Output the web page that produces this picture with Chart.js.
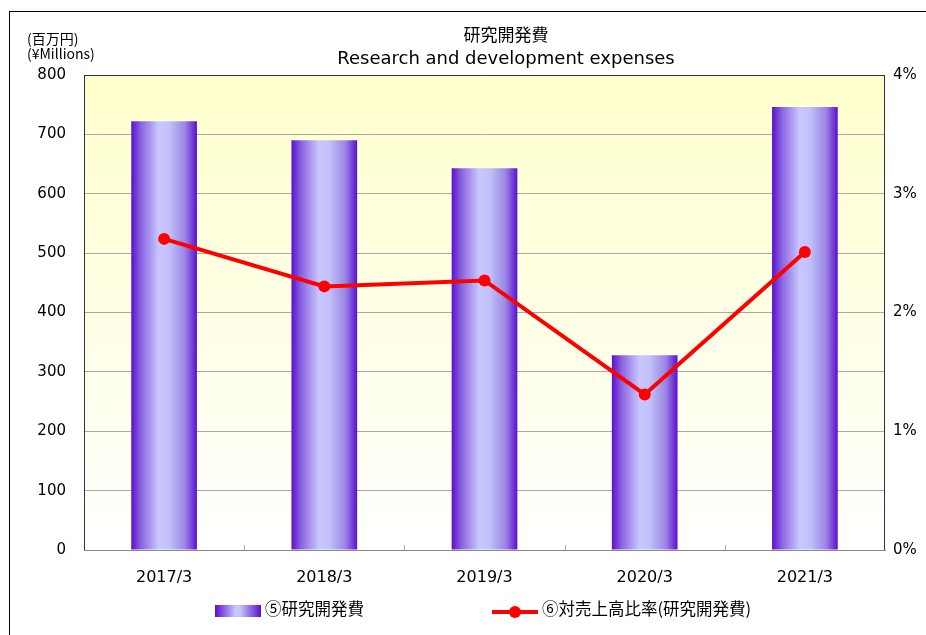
<!DOCTYPE html>
<html>
<head>
<meta charset="utf-8">
<script src="https://cdn.jsdelivr.net/npm/chart.js@4"></script>
<style>
  html, body { margin: 0; padding: 0; background: #fff; }
  #wrap { position: relative; width: 926px; height: 635px; overflow: hidden; font-family: "DejaVu Sans", sans-serif; color: #000; }
  #frame { position: absolute; left: 9px; top: 11px; width: 1000px; height: 700px; border: 1px solid #000; box-sizing: border-box; }
  canvas { position: absolute; left: 0; top: 0; }
  .txt { position: absolute; white-space: nowrap; }
  #title1 { left: 0; width: 1012px; top: 21px; text-align: center; font: 17px "Noto Sans CJK JP"; }
  #title2 { left: 0; width: 1012px; top: 47px; text-align: center; font: 18px "DejaVu Sans"; }
  #unit1 { left: 27px; top: 28px; font: 14px "Noto Sans CJK JP"; }
  #unit2 { left: 27px; top: 43px; font: 14px "Noto Sans CJK JP"; }
  .leg { position: absolute; top: 596px; font: 16.5px "Noto Sans CJK JP"; }
  #sw1 { position: absolute; left: 215px; top: 605px; width: 46px; height: 12px;
         background: linear-gradient(to right, #5a10cc, #c8c8ff 45%, #c4c4fa 55%, #5a10cc); }
  #sw2 { position: absolute; left: 492px; top: 610px; width: 46px; height: 4px; background: #ff0000; }
  #dot2 { position: absolute; left: 509px; top: 606px; width: 12px; height: 12px; border-radius: 50%; background: #ff0000; }
</style>
</head>
<body>
<div id="wrap">
  <canvas id="chart" width="926" height="635"></canvas>
  <div id="frame"></div>
  <div class="txt" id="title1">研究開発費</div>
  <div class="txt" id="title2">Research and development expenses</div>
  <div class="txt" id="unit1">(百万円)</div>
  <div class="txt" id="unit2">(¥Millions)</div>
  <div id="sw1"></div>
  <div class="leg" style="left:265px">⑤研究開発費</div>
  <div id="sw2"></div><div id="dot2"></div>
  <div class="leg" style="left:542px">⑥対売上高比率(研究開発費)</div>
</div>
<script>
// データ
var years = ["2017/3", "2018/3", "2019/3", "2020/3", "2021/3"];
var rdExpenses = [722, 690, 643, 328, 746];
var rdRatio = [2.62, 2.22, 2.27, 1.31, 2.51];
var leftTicks = [0, 100, 200, 300, 400, 500, 600, 700, 800];
var rightTicks = [0, 1, 2, 3, 4];

var barPct = 0.41;

// 棒のグラデーション
function barGradient(context) {
  var chart = context.chart;
  var x = chart.scales.x;
  if (!x || context.dataIndex === undefined) return "#8a70e0";
  var cx = x.getPixelForValue(context.dataIndex);
  var w = x.width / years.length * barPct;
  if (!isFinite(cx) || !isFinite(w) || w <= 0) return "#8a70e0";
  var g = chart.ctx.createLinearGradient(cx - w / 2, 0, cx + w / 2, 0);
  g.addColorStop(0, "#5a10cc");
  g.addColorStop(0.15, "#8a64e0");
  g.addColorStop(0.42, "#c8c8ff");
  g.addColorStop(0.58, "#c2c0f8");
  g.addColorStop(0.82, "#9a86e6");
  g.addColorStop(1, "#5a10cc");
  return g;
}

// 背景と枠
var bgPlugin = {
  id: "bg",
  beforeDraw: function (chart) {
    var a = chart.chartArea, ctx = chart.ctx;
    var g = ctx.createLinearGradient(0, a.top, 0, a.bottom);
    g.addColorStop(0, "#ffffcc");
    g.addColorStop(1, "#ffffff");
    ctx.save();
    ctx.fillStyle = g;
    ctx.fillRect(a.left, a.top, a.right - a.left, a.bottom - a.top);
    ctx.restore();
  },
  afterDatasetsDraw: function (chart) {
    var a = chart.chartArea, ctx = chart.ctx, x = chart.scales.x;
    ctx.save();
    ctx.strokeStyle = "#333";
    ctx.lineWidth = 1;
    ctx.beginPath();
    ctx.moveTo(a.left + 0.5, a.top); ctx.lineTo(a.left + 0.5, a.bottom);
    ctx.moveTo(a.left, a.top + 0.5); ctx.lineTo(a.right, a.top + 0.5);
    ctx.moveTo(a.right - 0.5, a.top); ctx.lineTo(a.right - 0.5, a.bottom);
    ctx.stroke();
    // 項目の区切り目盛
    ctx.strokeStyle = "#aaa";
    ctx.beginPath();
    for (var i = 1; i < years.length; i++) {
      var px = Math.round((x.getPixelForValue(i - 1) + x.getPixelForValue(i)) / 2) + 0.5;
      ctx.moveTo(px, a.bottom - 5); ctx.lineTo(px, a.bottom);
    }
    ctx.stroke();
    ctx.restore();
  }
};

new Chart(document.getElementById("chart"), {
  type: "bar",
  data: {
    labels: years,
    datasets: [
      {
        type: "line",
        label: "⑥対売上高比率(研究開発費)",
        data: rdRatio,
        yAxisID: "y2",
        borderColor: "#ff0000",
        backgroundColor: "#ff0000",
        borderWidth: 4,
        pointRadius: 6,
        pointBackgroundColor: "#ff0000",
        pointBorderWidth: 0,
        tension: 0,
        order: 0
      },
      {
        label: "⑤研究開発費",
        data: rdExpenses,
        yAxisID: "y",
        backgroundColor: barGradient,
        barPercentage: barPct,
        categoryPercentage: 1,
        order: 1
      }
    ]
  },
  options: {
    responsive: false,
    animation: false,
    layout: { padding: { top: 75, left: 0, right: 0, bottom: 0 } },
    plugins: { legend: { display: false }, title: { display: false }, tooltip: { enabled: false } },
    scales: {
      x: {
        grid: { display: false },
        border: { color: "#888" },
        ticks: { color: "#000", font: { family: "DejaVu Sans", size: 16 }, padding: 10 },
        afterFit: function (s) { s.height = 85; }
      },
      y: {
        min: 0, max: 800,
        afterBuildTicks: function (s) { s.ticks = leftTicks.map(function (v) { return { value: v }; }); },
        grid: { color: "#a8a8a8", drawTicks: false },
        border: { display: false },
        ticks: { color: "#000", font: { family: "DejaVu Sans", size: 15 }, padding: 18 },
        afterFit: function (s) { s.width = 84; }
      },
      y2: {
        position: "right",
        min: 0, max: 4,
        afterBuildTicks: function (s) { s.ticks = rightTicks.map(function (v) { return { value: v }; }); },
        grid: { drawOnChartArea: false, drawTicks: false },
        border: { display: false },
        ticks: { color: "#000", font: { family: "DejaVu Sans", size: 15 }, padding: 8,
                 callback: function (v) { return v + "%"; } },
        afterFit: function (s) { s.width = 41; }
      }
    }
  },
  plugins: [bgPlugin]
});
</script>
</body>
</html>
